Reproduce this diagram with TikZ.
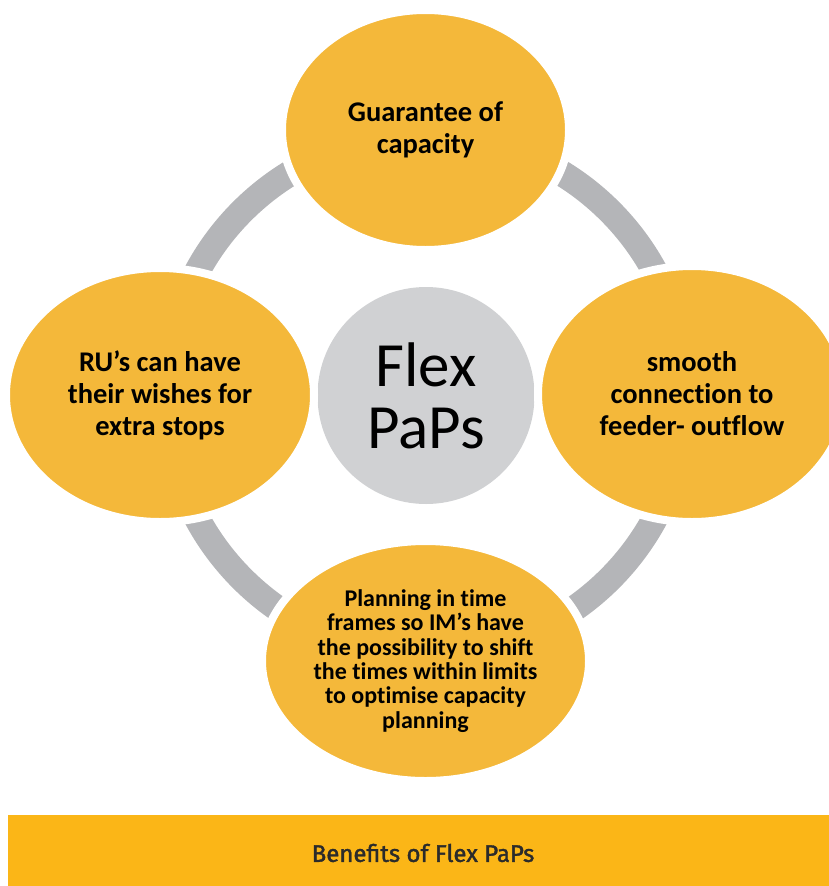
\documentclass[tikz,border=0pt]{standalone}
\usepackage{fontspec}
\setmainfont{Carlito}[Ligatures={NoCommon}]
\newfontfamily\barfont{Fira Sans}[FakeBold=1.6]
\usetikzlibrary{shapes.geometric}
\definecolor{petal}{HTML}{F4B83A}
\definecolor{hub}{HTML}{D0D1D3}
\definecolor{ringc}{HTML}{B4B5B8}
\definecolor{barc}{HTML}{FBB617}
\definecolor{bartext}{HTML}{2B2B2B}
\tikzset{
  petalnode/.style={ellipse, fill=petal, draw=white, line width=8pt, inner sep=0pt,
    align=center, font=\bfseries\fontsize{28.5}{32}\selectfont, text=black},
  hubnode/.style={circle, fill=hub, inner sep=0pt, minimum size=217pt, align=center,
    font=\fontsize{63}{70}\selectfont, text=black},
  ringline/.style={draw=ringc, line width=26pt},
}
\begin{document}
\begin{tikzpicture}[x=1pt,y=-1pt]
\useasboundingbox (0,0) rectangle (829,886);
\clip (0,0) rectangle (829,886);
\coordinate (ctr) at (426,395);
\draw[ringline] (ctr) circle (260);
\node[hubnode] (hub) at (426,395.5) {Flex\\[-8pt]PaPs};
\node[petalnode, minimum width=287pt, minimum height=240pt] (top) at (425.5,130) {Guarantee of\\capacity};
\node[petalnode, minimum width=308pt, minimum height=254pt] (left) at (160,395) {RU’s can have\\their wishes for\\extra stops};
\node[petalnode, minimum width=308pt, minimum height=256pt] (right) at (692,394) {smooth\\connection to\\feeder- outflow};
\node[petalnode, minimum width=327pt, minimum height=240pt, font=\bfseries\fontsize{24}{24.3}\selectfont] (bottom) at (425.5,661)
  {Planning in time\\frames so IM’s have\\the possibility to shift\\the times within limits\\to optimise capacity\\planning};
\fill[barc] (8,815) rectangle (840,890);
\node[font=\barfont\fontsize{24}{28}\selectfont, text=bartext] (caption) at (423,853) {Benefits of Flex PaPs};
\end{tikzpicture}
\end{document}
